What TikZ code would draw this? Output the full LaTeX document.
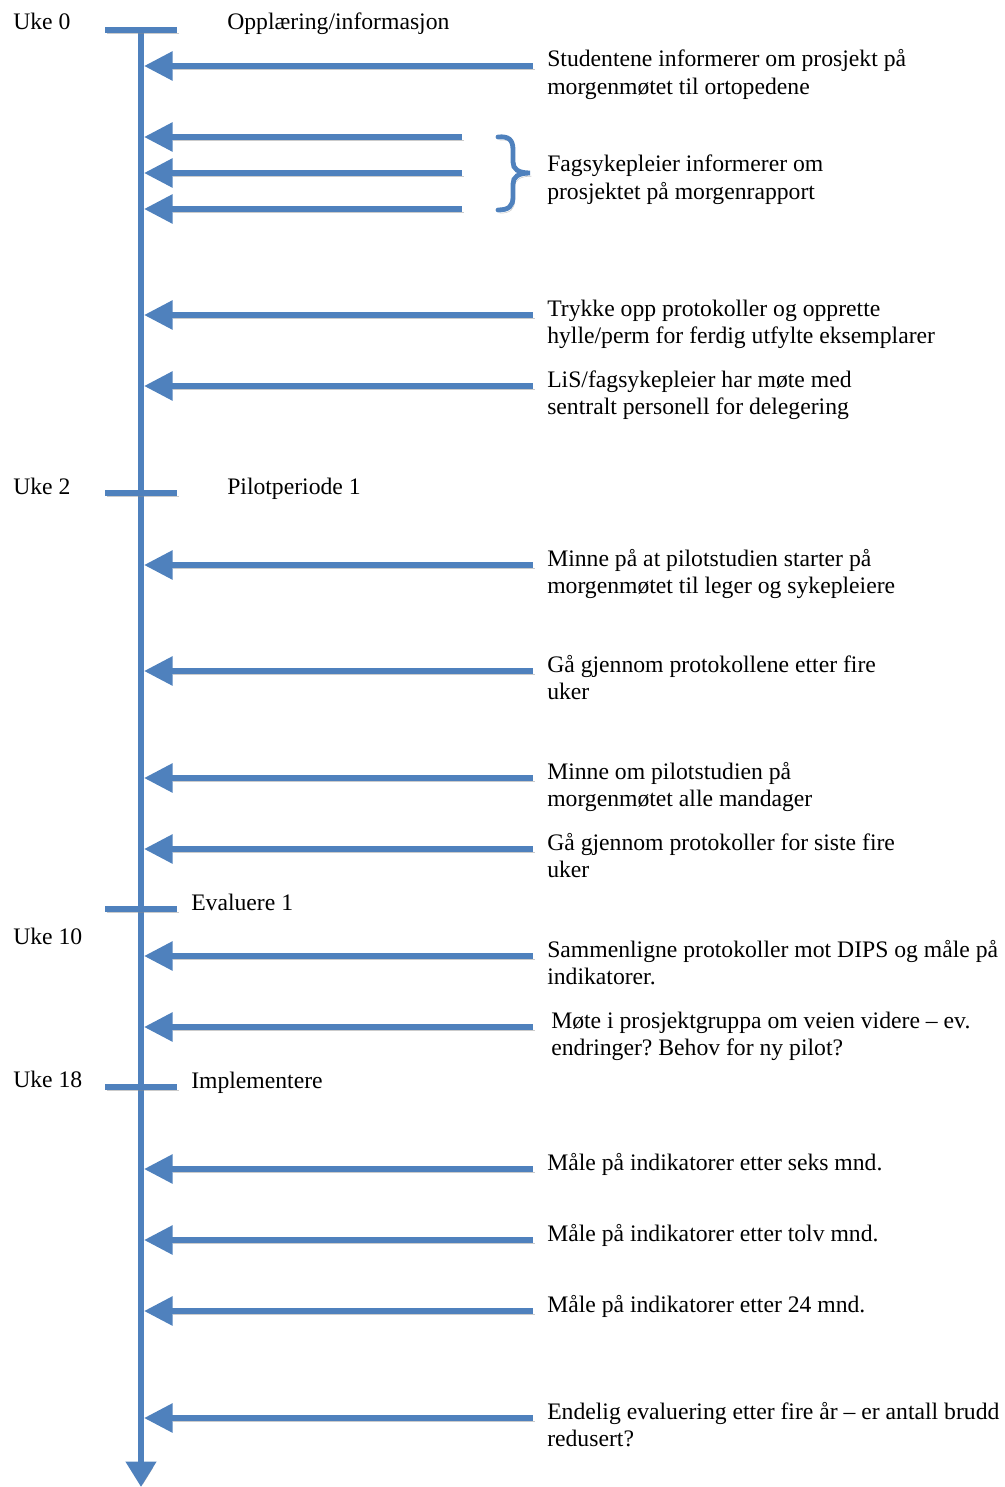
\documentclass[tikz,border=0pt]{standalone}
\usepackage{fontspec}
\setmainfont{Liberation Serif}
\usetikzlibrary{arrows.meta}
\definecolor{tlblue}{RGB}{79,129,189}
\frenchspacing
\newcommand{\twol}[2]{\begin{tabular}[t]{@{}l@{}}#1\\#2\end{tabular}}
\tikzset{
  shadowed/.style={preaction={draw=black!45,opacity=0.45,transform canvas={xshift=1.2pt,yshift=-2.4pt}}},
  bar/.style={draw=tlblue,line width=4.5pt,shadowed},
  evarrow/.style={bar,-{Triangle[length=21.5pt,width=21pt]}},
  axisarrow/.style={bar,-{Triangle[length=19pt,width=22pt]}},
  tick/.style={draw=tlblue,line width=4.5pt,shadowed},
  lbl/.style={anchor=base west,inner sep=0pt,font=\fontsize{17.75}{20.6}\selectfont\frenchspacing},
  bracestyle/.style={draw=tlblue,line width=3.6pt,line cap=round,shadowed}
}
\begin{document}
\begin{tikzpicture}[x=0.75pt,y=-0.75pt]
\useasboundingbox (0,0) rectangle (1005,1487);
% axis
\coordinate (axtop) at (141,30);
\coordinate (axbot) at (141,1487);
\draw[axisarrow] (axtop) -- (axbot);
% ticks
\foreach \n/\y in {t0/30,t2/493,t10/909,t18/1087}{
  \coordinate (\n l) at (105,\y);
  \coordinate (\n r) at (177,\y);
  \draw[tick] (\n l) -- (\n r);
}
% tick labels
\node[lbl] (uke0) at (13,30) {Uke 0};
\node[lbl] (uke2) at (13,494) {Uke 2};
\node[lbl] (uke10) at (13,944) {Uke 10};
\node[lbl] (uke18) at (13,1087) {Uke 18};
\node[lbl] (ph1) at (227,30) {Opplæring/informasjon};
\node[lbl] (ph2) at (227,494) {Pilotperiode 1};
\node[lbl] (ph3) at (191,910) {Evaluere 1};
\node[lbl] (ph4) at (191,1088) {Implementere};
% long arrows
\foreach \n/\y in {a1/66,a2/315,a3/386,a4/565,a5/671,a6/778,a7/849,a8/956,a9/1027,a10/1169,a11/1240,a12/1311,a13/1418}{
  \coordinate (\n s) at (533,\y);
  \coordinate (\n e) at (144,\y);
  \draw[evarrow] (\n s) -- (\n e);
}
% short arrows
\foreach \n/\y in {b1/137,b2/173,b3/209}{
  \coordinate (\n s) at (462,\y);
  \coordinate (\n e) at (144,\y);
  \draw[evarrow] (\n s) -- (\n e);
}
% brace
\draw[bracestyle] (498,137) .. controls (509,136) and (513,140) .. (513,150)
  -- (513,162) .. controls (513,169) and (518,173) .. (530,173)
  .. controls (518,173) and (513,177) .. (513,184)
  -- (513,197) .. controls (513,206) and (509,210) .. (498,210);
% texts
\node[lbl] (x1) at (547,67) {\twol{Studentene informerer om prosjekt på}{morgenmøtet til ortopedene}};
\node[lbl] (xb) at (547,172) {\twol{Fagsykepleier informerer om}{prosjektet på morgenrapport}};
\node[lbl] (x2) at (547,316) {\twol{Trykke opp protokoller og opprette}{hylle/perm for ferdig utfylte eksemplarer}};
\node[lbl] (x3) at (547,387) {\twol{LiS/fagsykepleier har møte med}{sentralt personell for delegering}};
\node[lbl] (x4) at (547,566) {\twol{Minne på at pilotstudien starter på}{morgenmøtet til leger og sykepleiere}};
\node[lbl] (x5) at (547,672) {\twol{Gå gjennom protokollene etter fire}{uker}};
\node[lbl] (x6) at (547,779) {\twol{Minne om pilotstudien på}{morgenmøtet alle mandager}};
\node[lbl] (x7) at (547,850) {\twol{Gå gjennom protokoller for siste fire}{uker}};
\node[lbl] (x8) at (547,957) {\twol{Sammenligne protokoller mot DIPS og måle på}{indikatorer.}};
\node[lbl] (x9) at (551,1028) {\twol{Møte i prosjektgruppa om veien videre – ev.}{endringer? Behov for ny pilot?}};
\node[lbl] (x10) at (547,1170) {Måle på indikatorer etter seks mnd.};
\node[lbl] (x11) at (547,1241) {Måle på indikatorer etter tolv mnd.};
\node[lbl] (x12) at (547,1312) {Måle på indikatorer etter 24 mnd.};
\node[lbl] (x13) at (547,1419) {\twol{Endelig evaluering etter fire år – er antall brudd}{redusert?}};
\end{tikzpicture}
\end{document}
